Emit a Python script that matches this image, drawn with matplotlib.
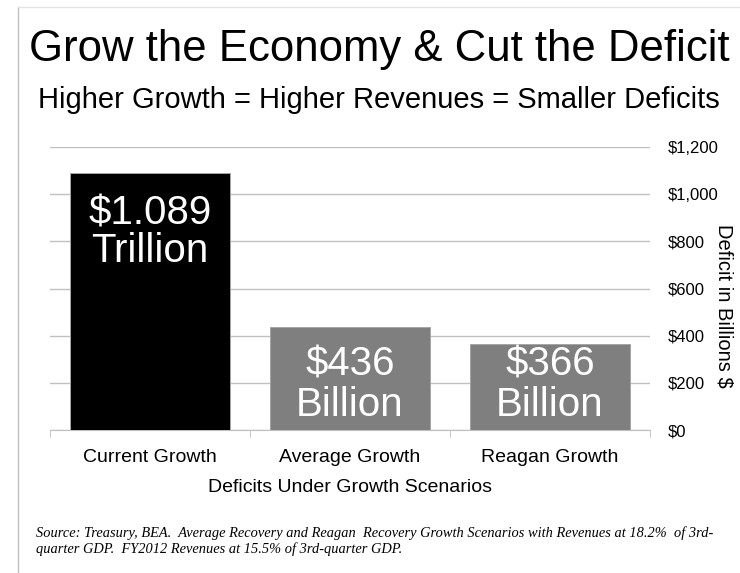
import matplotlib
matplotlib.use("Agg")
import matplotlib.pyplot as plt
from matplotlib.lines import Line2D
from matplotlib.ticker import FuncFormatter, FixedLocator
from matplotlib.transforms import offset_copy

categories = ["Current Growth", "Average Growth", "Reagan Growth"]
deficits = [1089, 436, 366]
bar_labels = ["$1.089\nTrillion", "$436\nBillion", "$366\nBillion"]
bar_colors = ["#000000", "#7f7f7f", "#7f7f7f"]
yticks = [0, 200, 400, 600, 800, 1000, 1200]

plt.rcParams['font.family'] = ['Liberation Sans', 'DejaVu Sans']

fig = plt.figure(figsize=(7.4, 5.73), dpi=100)
ax = fig.add_axes([50/740, 143/573, 600/740, 283/573])

x = list(range(len(categories)))
ax.bar(x, deficits, width=0.8, color=bar_colors, edgecolor="#a6a6a6", linewidth=0.7, zorder=3)
for xi, v, lab in zip(x, deficits, bar_labels):
    if v > 600:
        tr = offset_copy(ax.transData, fig=fig, x=0, y=-15, units="points")
        ax.text(xi, v, lab, ha="center", va="top", color="white", fontsize=29,
                linespacing=1.0, zorder=4, transform=tr)
    else:
        tr = offset_copy(ax.transData, fig=fig, x=0, y=4, units="points")
        ax.text(xi, 0, lab, ha="center", va="bottom", color="white", fontsize=29,
                linespacing=1.1, zorder=4, transform=tr)

ax.set_xlim(-0.5, 2.5)
ax.set_ylim(0, 1200)
ax.set_yticks(yticks)
ax.yaxis.set_major_formatter(FuncFormatter(lambda v, p: "${:,.0f}".format(v)))
ax.yaxis.tick_right()
ax.tick_params(axis="y", length=0, pad=13, labelsize=12)
ax.set_xticks(x)
ax.set_xticklabels(categories)
ax.tick_params(axis="x", which="major", length=0, pad=14, labelsize=14)
ax.xaxis.set_minor_locator(FixedLocator([-0.5, 0.5, 1.5, 2.5]))
ax.tick_params(axis="x", which="minor", length=5, color="#bfbfbf", direction="out")
ax.grid(axis="y", color="#c0c0c0", linewidth=1, zorder=0)
for s in ["top", "left", "right"]:
    ax.spines[s].set_visible(False)
ax.spines["bottom"].set_color("#bfbfbf")

ax.set_ylabel("Deficit in Billions $", rotation=-90, fontsize=14.5, ha="center", va="center")
ax.yaxis.set_label_position("right")
ax.yaxis.set_label_coords(1.14, 0.44)
ax.set_xlabel("Deficits Under Growth Scenarios", fontsize=14, labelpad=9)

fig.text(379/740, 1 - 50/573, "Grow the Economy & Cut the Deficit", ha="center", va="center", fontsize=31.5)
fig.text(379/740, 1 - 100/573, "Higher Growth = Higher Revenues = Smaller Deficits", ha="center", va="center", fontsize=21)
fig.text(36/740, 1 - 541/573,
         "Source: Treasury, BEA.  Average Recovery and Reagan  Recovery Growth Scenarios with Revenues at 18.2%  of 3rd-\nquarter GDP.  FY2012 Revenues at 15.5% of 3rd-quarter GDP.",
         ha="left", va="center", fontsize=10.4, style="italic", family=["Liberation Serif", "DejaVu Serif"],
         linespacing=1.15)

fig.add_artist(Line2D([18/740, 18/740], [0, 1 - 7/573], color="#bfbfbf", linewidth=1))
fig.add_artist(Line2D([18/740, 1], [1 - 7/573, 1 - 7/573], color="#e3e3e3", linewidth=1))

fig.savefig("out.png", dpi=100)
